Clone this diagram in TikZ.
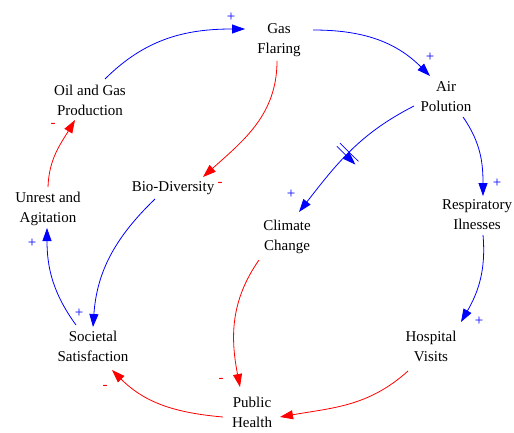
\documentclass[tikz,border=0pt]{standalone}
\usepackage{fontspec}
\setmainfont{Liberation Serif}
\usetikzlibrary{arrows.meta,decorations.markings}
\begin{document}
\begin{tikzpicture}[x=1pt,y=1pt,
  var/.style={align=center,inner sep=0pt,font=\fontsize{15}{20}\selectfont},
  link/.style={line width=0.8pt,-{Triangle[length=13pt,width=9pt]}},
  bl/.style={link,draw=blue},
  rd/.style={link,draw=red},
  plus/.style={text=blue,inner sep=0pt,font=\fontsize{15}{15}\selectfont},
  minus/.style={text=red,inner sep=0pt,font=\fontsize{15}{15}\selectfont},
  delaymark/.style={postaction={decorate},decoration={markings,
    mark=at position #1 with {\draw[blue,line width=0.7pt] (-2.2pt,-13pt)--(-2.2pt,13pt) (2.2pt,-13pt)--(2.2pt,13pt);}}}
]
\useasboundingbox (0,0) rectangle (514,432);
% variables
\node[var] (gas)  at (279,392) {Gas\\Flaring};
\node[var] (air)  at (446,335) {Air\\Polution};
\node[var] (resp) at (477,217) {Respiratory\\Ilnesses};
\node[var] (hosp) at (431,86)  {Hospital\\Visits};
\node[var] (pub)  at (252,20)  {Public\\Health};
\node[var] (soc)  at (93,86)   {Societal\\Satisfaction};
\node[var] (unr)  at (48,223)  {Unrest and\\Agitation};
\node[var] (oil)  at (90,332)  {Oil and Gas\\Production};
\node[var] (bio)  at (173,244) {Bio-Diversity};
\node[var] (clim) at (287,195) {Climate\\Change};
% links
\draw[bl] ([shift={(15,21)}]oil.center) to[out=45,in=180] ([shift={(-34,11)}]gas.center);
\draw[bl] ([shift={(34,10)}]gas.center) to[out=0,in=135] ([shift={(-16,21)}]air.center);
\draw[rd] ([shift={(-2,-21)}]gas.center) to[out=-90,in=42] ([shift={(30,11)}]bio.center);
\draw[bl] ([shift={(17,-20)}]air.center) to[out=-55,in=90] ([shift={(6,19)}]resp.center);
\draw[bl,delaymark=0.52] ([shift={(-32,-9)}]air.center) to[out=207,in=52] ([shift={(12,25)}]clim.center);
\draw[bl] ([shift={(6,-20)}]resp.center) to[out=-85,in=60] ([shift={(30,24)}]hosp.center);
\draw[rd] ([shift={(-23,-25)}]hosp.center) to[out=-138,in=10] ([shift={(28,-5)}]pub.center);
\draw[rd] ([shift={(-28,-23)}]clim.center) to[out=-125,in=101] ([shift={(-12,25)}]pub.center);
\draw[rd] ([shift={(-29,-5)}]pub.center) to[out=175,in=-45] ([shift={(19,-24)}]soc.center);
\draw[bl] ([shift={(-18,-11)}]bio.center) to[out=-136,in=86] ([shift={(0,19)}]soc.center);
\draw[bl] ([shift={(-17,21)}]soc.center) to[out=126,in=-90] ([shift={(-1,-19)}]unr.center);
\draw[rd] ([shift={(0,22)}]unr.center) to[out=88,in=-121] ([shift={(-15,-20)}]oil.center);
% polarities
\node[plus]  (p1)  at (231,415) {+};
\node[plus]  (p2)  at (430,375) {+};
\node[minus] (p3)  at (220,248) {-};
\node[plus]  (p4)  at (497,249) {+};
\node[plus]  (p5)  at (291,238) {+};
\node[plus]  (p6)  at (479,111) {+};
\node[minus] (p8)  at (221,52)  {-};
\node[minus] (p9)  at (105,45)  {-};
\node[plus]  (p10) at (79,119)  {+};
\node[plus]  (p11) at (32,189)  {+};
\node[minus] (p12) at (53,307)  {-};
\end{tikzpicture}
\end{document}
